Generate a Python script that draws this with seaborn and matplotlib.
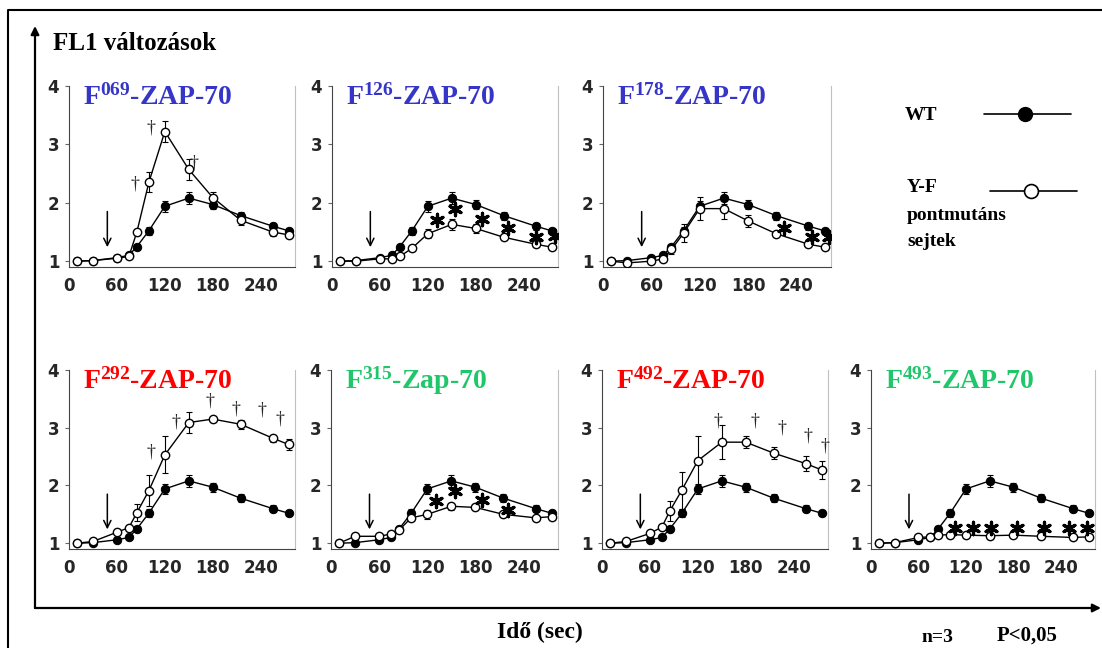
import numpy as np
import pandas as pd
import seaborn as sns
import matplotlib.pyplot as plt

# time points (sec)
times = [10, 30, 60, 75, 85, 100, 120, 150, 180, 215, 255, 275]

# wild type, same curve in every panel
wt_mean = [1.0, 1.01, 1.06, 1.1, 1.25, 1.52, 1.94, 2.08, 1.97, 1.78, 1.6, 1.52]
wt_err = [0, 0, 0.02, 0.03, 0.04, 0.07, 0.09, 0.1, 0.08, 0.07, 0.06, 0.05]

# Y-F point mutants
f069_mean = [1.0, 1.01, 1.05, 1.08, 1.5, 2.35, 3.22, 2.57, 2.09, 1.7, 1.5, 1.45]
f069_err = [0, 0, 0.02, 0.02, 0.05, 0.17, 0.18, 0.18, 0.1, 0.08, 0.07, 0.05]
f126_mean = [1.0, 1.0, 1.04, 1.04, 1.08, 1.22, 1.47, 1.63, 1.56, 1.41, 1.29, 1.24]
f126_err = [0, 0, 0.02, 0.02, 0.03, 0.04, 0.08, 0.1, 0.07, 0.05, 0.03, 0.03]
f178_mean = [1.0, 0.97, 1.0, 1.04, 1.2, 1.48, 1.9, 1.9, 1.69, 1.47, 1.29, 1.24]
f178_err = [0, 0.02, 0.03, 0.03, 0.08, 0.15, 0.2, 0.17, 0.1, 0.03, 0.03, 0.02]
f292_mean = [1.0, 1.03, 1.19, 1.27, 1.53, 1.91, 2.53, 3.09, 3.15, 3.06, 2.82, 2.71]
f292_err = [0, 0.02, 0.03, 0.04, 0.15, 0.27, 0.32, 0.18, 0.05, 0.08, 0.06, 0.1]
f315_mean = [1.0, 1.12, 1.12, 1.16, 1.23, 1.44, 1.5, 1.64, 1.62, 1.5, 1.44, 1.46]
f315_err = [0, 0.02, 0.02, 0.03, 0.03, 0.04, 0.08, 0.06, 0.04, 0.03, 0.03, 0.03]
f492_mean = [1.0, 1.03, 1.17, 1.28, 1.56, 1.92, 2.43, 2.75, 2.75, 2.56, 2.38, 2.27]
f492_err = [0, 0.02, 0.03, 0.04, 0.17, 0.32, 0.42, 0.29, 0.1, 0.1, 0.13, 0.15]
f493_mean = [1.0, 1.01, 1.1, 1.11, 1.14, 1.15, 1.14, 1.13, 1.14, 1.12, 1.1, 1.11]
f493_err = [0, 0.01, 0.02, 0.02, 0.02, 0.02, 0.02, 0.02, 0.02, 0.02, 0.02, 0.02]

# significance marks (P<0,05)
f069_sig_x = [83, 103, 157]
f069_sig_y = [2.33, 3.28, 2.68]
f126_sig_x = [131, 154, 188, 221, 255, 279]
f126_sig_y = [1.71, 1.89, 1.72, 1.56, 1.42, 1.43]
f178_sig_x = [225, 260, 281]
f178_sig_y = [1.57, 1.41, 1.41]
f292_sig_x = [103, 134, 176, 209, 242, 264]
f292_sig_y = [2.58, 3.1, 3.46, 3.33, 3.3, 3.16]
f315_sig_x = [131, 154, 188, 221]
f315_sig_y = [1.73, 1.9, 1.74, 1.58]
f492_sig_x = [145, 192, 225, 258, 279]
f492_sig_y = [3.11, 3.11, 3.0, 2.86, 2.69]
f493_sig_x = [106, 129, 151, 184, 218, 250, 273]
f493_sig_y = [1.26, 1.26, 1.26, 1.26, 1.26, 1.26, 1.26]

x_ticks = [0, 60, 120, 180, 240]
y_ticks = [1, 2, 3, 4]
stim_time = 48

BLUE = "#3535C8"
RED = "#FF0000"
GREEN = "#1FC66A"

panels = [
    ("069", "-ZAP-70", BLUE, f069_mean, f069_err, f069_sig_x, f069_sig_y, "dagger"),
    ("126", "-ZAP-70", BLUE, f126_mean, f126_err, f126_sig_x, f126_sig_y, "star"),
    ("178", "-ZAP-70", BLUE, f178_mean, f178_err, f178_sig_x, f178_sig_y, "star"),
    ("292", "-ZAP-70", RED, f292_mean, f292_err, f292_sig_x, f292_sig_y, "dagger"),
    ("315", "-Zap-70", GREEN, f315_mean, f315_err, f315_sig_x, f315_sig_y, "star"),
    ("492", "-ZAP-70", RED, f492_mean, f492_err, f492_sig_x, f492_sig_y, "dagger"),
    ("493", "-ZAP-70", GREEN, f493_mean, f493_err, f493_sig_x, f493_sig_y, "star"),
]

sns.set_style("ticks")
plt.rcParams['font.family'] = ['DejaVu Sans']
plt.rcParams['mathtext.fontset'] = 'custom'
plt.rcParams['mathtext.rm'] = 'Liberation Serif:bold'
plt.rcParams['mathtext.it'] = 'Liberation Serif:bold'
plt.rcParams['mathtext.bf'] = 'Liberation Serif:bold'

W, H = 1102, 648
fig = plt.figure(figsize=(W / 100, H / 100), dpi=100)

# overlay in pixel coords for frame, big axes arrows and free text
ov = fig.add_axes([0, 0, 1, 1])
ov.set_xlim(0, W)
ov.set_ylim(H, 0)
ov.axis('off')
ov.plot([8, 8, W], [H, 10, 10], color='black', lw=1.5)
ov.annotate('', xy=(35, 26), xytext=(35, 608),
            arrowprops=dict(arrowstyle='-|>', lw=1.6, color='black', mutation_scale=12, shrinkA=0, shrinkB=0))
ov.annotate('', xy=(1101, 608), xytext=(35, 608),
            arrowprops=dict(arrowstyle='-|>', lw=1.6, color='black', mutation_scale=12, shrinkA=0, shrinkB=0))

serif = dict(fontfamily='Liberation Serif', fontweight='bold', color='black')
ov.text(53, 50, "FL1 változások", fontsize=18, va='baseline', **serif)
ov.text(540, 632, "Idő (sec)", fontsize=17, ha='center', va='center', **serif)
ov.text(937, 637, "n=3", fontsize=14, ha='center', va='center', **serif)
ov.text(1027, 636, "P<0,05", fontsize=15, ha='center', va='center', **serif)

# legend
ov.text(905, 115, "WT", fontsize=14, va='center', **serif)
ov.plot([984, 1071], [114, 114], color='black', lw=1.2)
ov.plot([1025], [114], 'o', ms=10, mfc='black', mec='black')
ov.text(907, 188, "Y-F", fontsize=14, va='center', **serif)
ov.text(907, 215, "pontmutáns", fontsize=14, va='center', **serif)
ov.text(907, 242, "sejtek", fontsize=14, va='center', **serif)
ov.plot([990, 1077], [191, 191], color='black', lw=1.2)
ov.plot([1031], [191], 'o', ms=10, mfc='white', mec='black', mew=1.2)


def px_rect(l, r, t, b):
    return [l / W, 1 - b / H, (r - l) / W, (b - t) / H]


rects = [
    px_rect(69, 295, 86, 267),
    px_rect(332, 558, 86, 267),
    px_rect(603, 831, 86, 267),
    px_rect(69, 295, 370, 549),
    px_rect(331, 558, 370, 549),
    px_rect(602, 828, 370, 549),
    px_rect(871, 1095, 370, 549),
]

for rect, (lab, suffix, col, mean, err, sx, sy, kind) in zip(rects, panels):
    ax = fig.add_axes(rect)
    ax.set_facecolor('none')

    ax.errorbar(times, wt_mean, yerr=wt_err, fmt='none', ecolor='black',
                elinewidth=0.8, capsize=2.5, capthick=0.8, zorder=2)
    ax.errorbar(times, mean, yerr=err, fmt='none', ecolor='black',
                elinewidth=0.8, capsize=2.5, capthick=0.8, zorder=2)
    sns.lineplot(x=times, y=wt_mean, ax=ax, color='black', linewidth=1, marker='o',
                 markersize=6, markerfacecolor='black', markeredgecolor='black', zorder=3)
    sns.lineplot(x=times, y=mean, ax=ax, color='black', linewidth=1, marker='o',
                 markersize=6, markerfacecolor='white', markeredgecolor='black',
                 markeredgewidth=1, zorder=4)

    if kind == "star":
        ax.scatter(sx, sy, marker=(6, 2, 0), s=80, color='black', linewidths=2.3, zorder=5)
    else:
        for x, y in zip(sx, sy):
            ax.text(x, y, "\u2020", fontsize=13, fontfamily='Liberation Serif',
                    ha='center', va='center', zorder=5)

    ax.annotate('', xy=(stim_time, 1.24), xytext=(stim_time, 1.85),
                arrowprops=dict(arrowstyle='->', lw=1.1, color='black', mutation_scale=13,
                                shrinkA=0, shrinkB=0))

    ax.text(0.062, 0.895, rf"F$^{{{lab}}}${suffix}", transform=ax.transAxes, color=col,
            fontsize=20, fontfamily='Liberation Serif', fontweight='bold', va='baseline')

    ax.set_xlim(0, 283)
    ax.set_ylim(0.9, 4.0)
    ax.set_xticks(x_ticks)
    ax.set_yticks(y_ticks)
    ax.tick_params(axis='x', length=0, pad=7, labelsize=12)
    ax.tick_params(axis='y', length=3, width=0.8, color='#666666', pad=4, labelsize=12)
    plt.setp(ax.get_xticklabels(), fontweight='bold')
    plt.setp(ax.get_yticklabels(), fontweight='bold')
    ax.set_xlabel('')
    ax.set_ylabel('')
    ax.spines['top'].set_visible(False)
    ax.spines['right'].set_color('#C0C0C0')
    ax.spines['right'].set_linewidth(0.8)
    ax.spines['left'].set_color('#444444')
    ax.spines['bottom'].set_color('#444444')

fig.savefig('out.png', dpi=100)
